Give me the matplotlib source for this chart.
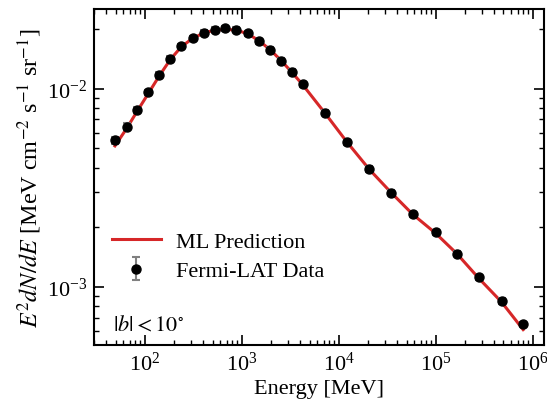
import numpy as np
import matplotlib
matplotlib.use("Agg")
import matplotlib.pyplot as plt

# Energies of the bins [MeV]
energy = [49.2, 64.9, 84.1, 109.2, 141.6, 183.6, 238.2, 311, 403.6, 523.6,
          679, 882, 1153, 1510, 1959, 2541, 3265, 4236, 7194, 12110,
          20690, 34590, 57800, 99600, 1.66e5, 2.77e5, 4.78e5, 7.98e5]

# Fermi-LAT flux E^2 dN/dE
fermi_flux = [5.49e-3, 6.45e-3, 7.84e-3, 9.58e-3, 1.177e-2, 1.416e-2, 1.641e-2,
              1.802e-2, 1.916e-2, 1.983e-2, 2.014e-2, 1.983e-2, 1.900e-2,
              1.740e-2, 1.573e-2, 1.384e-2, 1.218e-2, 1.056e-2, 7.57e-3,
              5.38e-3, 3.94e-3, 2.99e-3, 2.334e-3, 1.885e-3, 1.472e-3,
              1.118e-3, 8.50e-4, 6.48e-4]
fermi_err = [2.2e-4, 2.4e-4, 2.8e-4, 3.2e-4, 3.8e-4, 4.4e-4, 5.0e-4, 5.4e-4,
             5.7e-4, 5.9e-4, 6.0e-4, 5.9e-4, 5.7e-4, 5.2e-4, 4.7e-4, 4.2e-4,
             3.7e-4, 3.2e-4, 2.3e-4, 1.6e-4, 1.2e-4, 9.0e-5, 7.0e-5, 5.7e-5,
             4.5e-5, 3.5e-5, 2.8e-5, 2.2e-5]

# ML prediction
ml_flux = [5.15e-3, 6.30e-3, 7.75e-3, 9.50e-3, 1.165e-2, 1.405e-2, 1.630e-2,
           1.795e-2, 1.910e-2, 1.975e-2, 1.995e-2, 1.975e-2, 1.895e-2,
           1.745e-2, 1.575e-2, 1.390e-2, 1.215e-2, 1.050e-2, 7.55e-3,
           5.40e-3, 3.92e-3, 3.00e-3, 2.33e-3, 1.87e-3, 1.47e-3,
           1.11e-3, 8.40e-4, 6.10e-4]

plt.rcParams["font.family"] = "serif"
plt.rcParams["font.serif"] = ["Liberation Serif", "DejaVu Serif"]
plt.rcParams["mathtext.fontset"] = "stix"

fig = plt.figure(figsize=(5.47, 4.10), dpi=100)
ax = fig.add_axes([0.172, 0.156, 0.822, 0.82])

ax.plot(energy, ml_flux, color="#d62728", lw=2.2, label="ML Prediction", zorder=2)
ax.errorbar(energy, fermi_flux, yerr=fermi_err, fmt="o", color="black",
            ms=6.5, ecolor="gray", elinewidth=1.5, capsize=3, capthick=1.5,
            label="Fermi-LAT Data", zorder=3)

ax.set_xscale("log")
ax.set_yscale("log")
ax.set_xlim(30, 1.3e6)
ax.set_ylim(5.1e-4, 2.53e-2)

ax.set_xlabel("Energy [MeV]", fontsize=16, labelpad=3)
ax.set_ylabel(r"$E^2dN/dE$ [MeV cm$^{-2}$ s$^{-1}$ sr$^{-1}$]", fontsize=17.4,
              labelpad=2)

ax.tick_params(which="both", direction="in", top=True, right=True, labelsize=16)
ax.tick_params(which="major", length=7, width=1.2, pad=5)
ax.tick_params(which="minor", length=3.5, width=1)
for s in ax.spines.values():
    s.set_linewidth(1.5)

ax.legend(loc="lower left", bbox_to_anchor=(-0.005, 0.13), frameon=False,
          fontsize=16, handlelength=2.2, handletextpad=0.7, labelspacing=0.4)
ax.text(0.042, 0.043, r"$|b| < 10^{\circ}$", transform=ax.transAxes, fontsize=16)

fig.savefig("out.png", dpi=100)
